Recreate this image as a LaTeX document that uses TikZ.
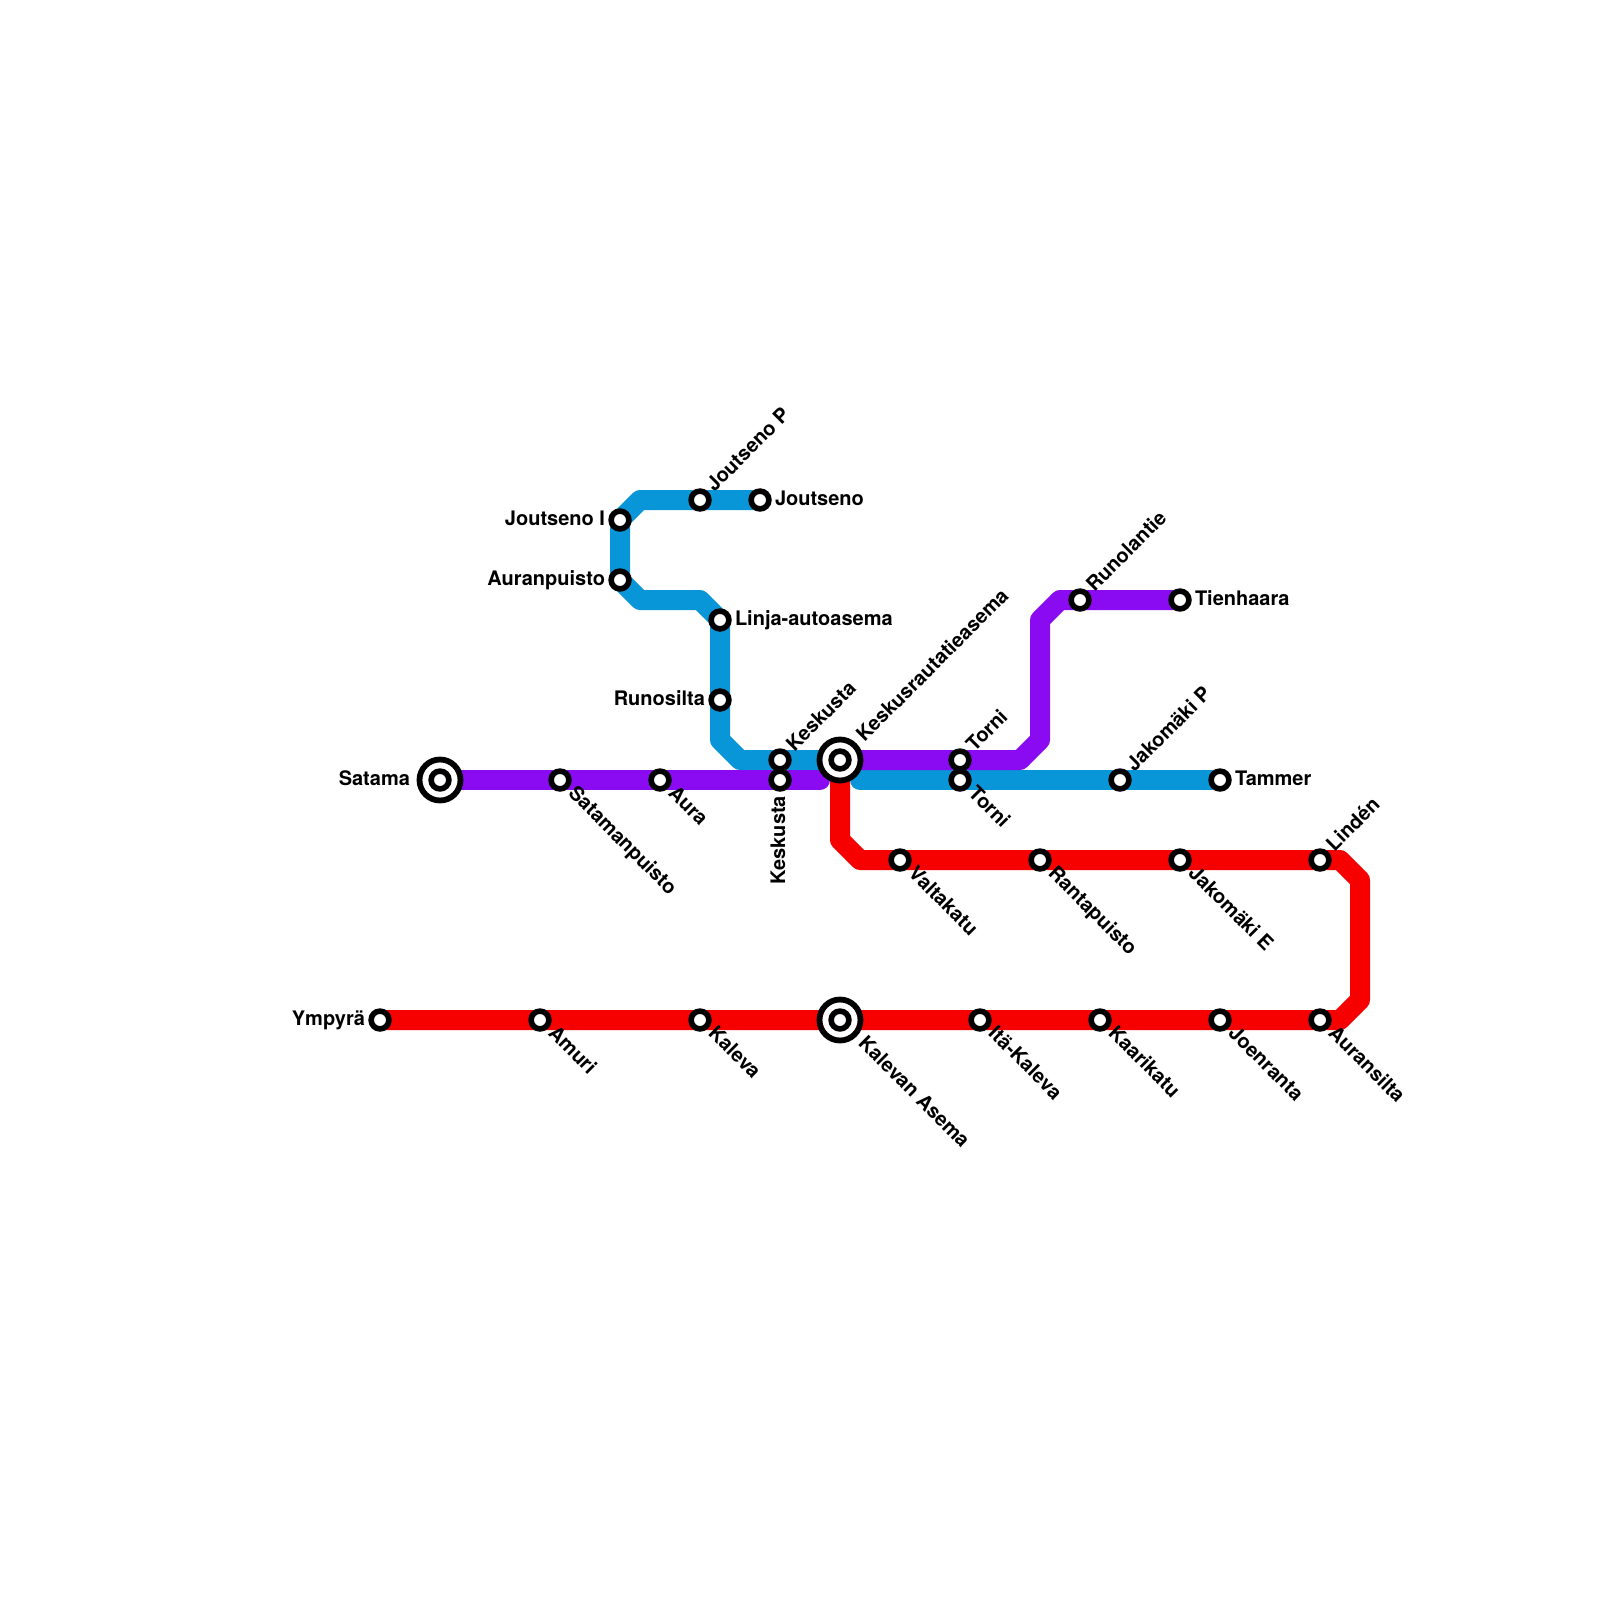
\documentclass[tikz,border=0pt]{standalone}
\usepackage{fontspec}
\setmainfont{TeX Gyre Heros}
\usetikzlibrary{backgrounds}
\definecolor{mred}{HTML}{F70000}
\definecolor{mpurple}{HTML}{8A0BF1}
\definecolor{mblue}{HTML}{0996D8}
\tikzset{
  route/.style={line width=20pt,line cap=round,line join=round},
  stn/.style={circle,draw=black,fill=white,line width=5.6pt,inner sep=0pt,outer sep=0pt,minimum size=17.8pt},
  hub/.style={circle,draw=black,fill=white,line width=5.8pt,inner sep=0pt,outer sep=0pt,minimum size=41pt},
  lbl/.style={inner sep=0pt,outer sep=0pt,text height=14pt,text depth=4pt,font=\bfseries\fontsize{20}{20}\selectfont,text=black},
  lblR/.style={lbl,anchor=west},
  lblL/.style={lbl,anchor=east},
  lblNE/.style={lbl,anchor=west,rotate=45},
  lblSE/.style={lbl,anchor=west,rotate=-45},
  lblD/.style={lbl,anchor=east,rotate=90}
}
\begin{document}
\begin{tikzpicture}[x=1pt,y=-1pt]
\useasboundingbox (0,0) rectangle (1600,1600);
% red line
\node[hub] (kah) at (840,1020) {};
\node[hub] (ckh) at (840,760) {};
\node[hub] (sah) at (440,780) {};
\node[stn] (ympyra) at (380,1020) {};
\node[stn] (amuri) at (540,1020) {};
\node[stn] (kaleva) at (700,1020) {};
\node[stn] (kalevan) at (840,1020) {};
\node[stn] (ita) at (980,1020) {};
\node[stn] (kaari) at (1100,1020) {};
\node[stn] (joen) at (1220,1020) {};
\node[stn] (auran) at (1320,1020) {};
\node[stn] (linden) at (1320,860) {};
\node[stn] (jake) at (1180,860) {};
\node[stn] (ranta) at (1040,860) {};
\node[stn] (valta) at (900,860) {};
\node[stn] (central) at (840,760) {};
% purple line
\node[stn] (satama) at (440,780) {};
\node[stn] (satp) at (560,780) {};
\node[stn] (aura) at (660,780) {};
\node[stn] (keskd) at (780,780) {};
\node[stn] (torniu) at (960,760) {};
\node[stn] (runol) at (1080,600) {};
\node[stn] (tien) at (1180,600) {};
% blue line
\node[stn] (tammer) at (1220,780) {};
\node[stn] (jakp) at (1120,780) {};
\node[stn] (tornid) at (960,780) {};
\node[stn] (kesku) at (780,760) {};
\node[stn] (runos) at (720,700) {};
\node[stn] (linja) at (720,620) {};
\node[stn] (aurp) at (620,580) {};
\node[stn] (jouti) at (620,520) {};
\node[stn] (joutp) at (700,500) {};
\node[stn] (joutseno) at (760,500) {};
% bends
\coordinate (r1) at (1340,1020);
\coordinate (r2) at (1360,1000);
\coordinate (r3) at (1360,880);
\coordinate (r4) at (1340,860);
\coordinate (r5) at (860,860);
\coordinate (r6) at (840,840);
\coordinate (p1) at (1020,760);
\coordinate (p2) at (1040,740);
\coordinate (p3) at (1040,620);
\coordinate (p4) at (1060,600);
\coordinate (p5) at (820,780);
\coordinate (b1) at (860,780);
\coordinate (b2) at (740,760);
\coordinate (b3) at (720,740);
\coordinate (b4) at (700,600);
\coordinate (b5) at (640,600);
\coordinate (b6) at (640,500);
\begin{scope}[on background layer]
\draw[route,mblue] (tammer.center) -- (jakp.center) -- (tornid.center) -- (b1);
\draw[route,mblue] (central.center) -- (kesku.center) -- (b2) -- (b3) -- (runos.center) -- (linja.center) -- (b4) -- (b5) -- (aurp.center) -- (jouti.center) -- (b6) -- (joutp.center) -- (joutseno.center);
\draw[route,mpurple] (satama.center) -- (satp.center) -- (aura.center) -- (keskd.center) -- (p5);
\draw[route,mpurple] (central.center) -- (torniu.center) -- (p1) -- (p2) -- (p3) -- (p4) -- (runol.center) -- (tien.center);
\draw[route,mred] (ympyra.center) -- (amuri.center) -- (kaleva.center) -- (kalevan.center) -- (ita.center) -- (kaari.center) -- (joen.center) -- (auran.center) -- (r1) -- (r2) -- (r3) -- (r4) -- (linden.center) -- (jake.center) -- (ranta.center) -- (valta.center) -- (r5) -- (r6) -- (central.center);
\end{scope}
% labels
\node[lblL] (t1) at (365,1020) {Ympyrä};
\node[lblSE] (t2) at (551,1031) {Amuri};
\node[lblSE] (t3) at (711,1031) {Kaleva};
\node[lblSE] (t4) at (861,1041) {Kalevan Asema};
\node[lblSE] (t5) at (991,1031) {Itä-Kaleva};
\node[lblSE] (t6) at (1111,1031) {Kaarikatu};
\node[lblSE] (t7) at (1231,1031) {Joenranta};
\node[lblSE] (t8) at (1331,1031) {Auransilta};
\node[lblNE] (t9) at (1331,849) {Lindén};
\node[lblSE] (t10) at (1191,871) {Jakomäki E};
\node[lblSE] (t11) at (1051,871) {Rantapuisto};
\node[lblSE] (t12) at (911,871) {Valtakatu};
\node[lblNE] (t13) at (861,739) {Keskusrautatieasema};
\node[lblL] (t14) at (410,780) {Satama};
\node[lblSE] (t15) at (571,791) {Satamanpuisto};
\node[lblSE] (t16) at (671,791) {Aura};
\node[lblD] (t17) at (780,796) {Keskusta};
\node[lblNE] (t18) at (791,749) {Keskusta};
\node[lblNE] (t19) at (971,749) {Torni};
\node[lblSE] (t20) at (971,791) {Torni};
\node[lblNE] (t21) at (1091,589) {Runolantie};
\node[lblR] (t22) at (1195,600) {Tienhaara};
\node[lblR] (t23) at (1235,780) {Tammer};
\node[lblNE] (t24) at (1131,769) {Jakomäki P};
\node[lblL] (t25) at (705,700) {Runosilta};
\node[lblR] (t26) at (735,620) {Linja-autoasema};
\node[lblL] (t27) at (605,580) {Auranpuisto};
\node[lblL] (t28) at (605,520) {Joutseno I};
\node[lblNE] (t29) at (711,489) {Joutseno P};
\node[lblR] (t30) at (775,500) {Joutseno};
\end{tikzpicture}
\end{document}
